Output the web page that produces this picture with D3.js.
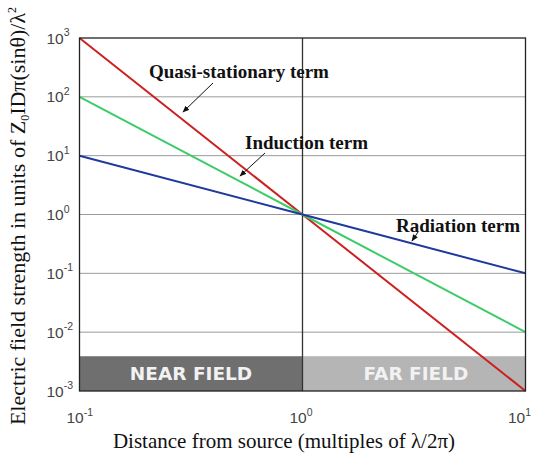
<!DOCTYPE html>
<html><head><meta charset="utf-8">
<script src="https://cdn.jsdelivr.net/npm/d3@7"></script>
<style>body{margin:0;background:#fff}svg{display:block}</style>
</head><body>
<script>
// ---- data ----
const distance = [0.1, 1, 10];
const quasiStationary = [1000, 1, 0.001];
const induction = [100, 1, 0.01];
const radiation = [10, 1, 0.1];
const yTickExponents = [3, 2, 1, 0, -1, -2, -3];
const xTickExponents = [-1, 0, 1];
const seriesNames = ["Quasi-stationary term", "Induction term", "Radiation term"];
const bandLabels = ["NEAR FIELD", "FAR FIELD"];
const bandTop = 0.0039;

const W = 534, H = 454;
const m = {left: 79.5, right: 8.5, top: 38, bottom: 63};
const svg = d3.select("body").append("svg").attr("width", W).attr("height", H);
const x = d3.scaleLog().domain([0.1, 10]).range([m.left, W - m.right]);
const y = d3.scaleLog().domain([0.001, 1000]).range([H - m.bottom, m.top]);

// bands
const bands = [{x0: 0.1, x1: 1, fill: "#6f6f6f", label: bandLabels[0]},
               {x0: 1, x1: 10, fill: "#b5b5b5", label: bandLabels[1]}];
svg.selectAll("rect.band").data(bands).join("rect").attr("class", "band")
  .attr("x", d => x(d.x0)).attr("width", d => x(d.x1) - x(d.x0))
  .attr("y", y(bandTop)).attr("height", y(0.001) - y(bandTop))
  .attr("fill", d => d.fill);
svg.selectAll("text.band").data(bands).join("text").attr("class", "band")
  .attr("x", d => (x(d.x0) + x(d.x1)) / 2 + (d.x0 === 1 ? 2 : 0))
  .attr("y", (y(bandTop) + y(0.001)) / 2 + 6.5)
  .attr("text-anchor", "middle").attr("fill", "#f2f2f2")
  .attr("font-family", "DejaVu Sans").attr("font-weight", "bold").attr("font-size", 18.5)
  .text(d => d.label);

// gridlines
svg.selectAll("line.gy").data(yTickExponents.filter(e => e > -3 && e < 3)).join("line")
  .attr("class", "gy").attr("x1", m.left).attr("x2", W - m.right)
  .attr("y1", e => y(Math.pow(10, e))).attr("y2", e => y(Math.pow(10, e)))
  .attr("stroke", "#9a9a9a").attr("stroke-width", 1);
svg.append("line").attr("x1", x(1)).attr("x2", x(1)).attr("y1", m.top).attr("y2", H - m.bottom)
  .attr("stroke", "#333").attr("stroke-width", 1.3);

// series
const series = [
  {name: seriesNames[0], vals: quasiStationary, color: "#cc2020"},
  {name: seriesNames[1], vals: induction, color: "#3dcc6a"},
  {name: seriesNames[2], vals: radiation, color: "#1f3a9c"}
];
const line = d3.line().x(d => x(d[0])).y(d => y(d[1]));
series.forEach(s => {
  svg.append("path").attr("d", line(distance.map((d, i) => [d, s.vals[i]])))
    .attr("fill", "none").attr("stroke", s.color).attr("stroke-width", 2);
});

// frame
svg.append("rect").attr("x", m.left).attr("y", m.top)
  .attr("width", W - m.right - m.left).attr("height", H - m.bottom - m.top)
  .attr("fill", "none").attr("stroke", "#222").attr("stroke-width", 1.3);

// tick labels
const tickFont = "Liberation Sans";
const yt = svg.selectAll("text.yt").data(yTickExponents).join("text").attr("class", "yt")
  .attr("x", m.left - 33).attr("y", e => y(Math.pow(10, e)) + 5.5)
  .attr("font-family", tickFont).attr("font-size", 15.5).attr("fill", "#444");
yt.append("tspan").text("10");
yt.append("tspan").attr("font-size", 10.5).attr("dy", -7.5).text(e => e);

const xt = svg.selectAll("text.xt").data(xTickExponents).join("text").attr("class", "xt")
  .attr("x", e => Math.min(x(Math.pow(10, e)) - 13, W - 26)).attr("y", H - m.bottom + 32)
  .attr("font-family", tickFont).attr("font-size", 15.5).attr("fill", "#444");
xt.append("tspan").text("10");
xt.append("tspan").attr("font-size", 10.5).attr("dy", -7.5).text(e => e);

// axis titles
svg.append("text").attr("x", 284).attr("y", 448).attr("text-anchor", "middle")
  .attr("font-family", "Liberation Serif").attr("font-size", 21).attr("fill", "#111")
  .text("Distance from source (multiples of λ/2π)");
const yl = svg.append("text").attr("transform", "translate(25,216) rotate(-90)")
  .attr("text-anchor", "middle").attr("font-family", "Liberation Serif").attr("font-size", 22).attr("fill", "#111");
yl.append("tspan").text("Electric field strength in units of Z");
yl.append("tspan").attr("font-size", 12).attr("dy", 4).text("0");
yl.append("tspan").attr("dy", -4).text("IDπ(sinθ)/λ");
yl.append("tspan").attr("font-size", 12).attr("dy", -9).text("2");

// annotations
const ann = [
  {text: seriesNames[0], tx: 149, ty: 78, ax1: 213, ay1: 83, ax2: 183, ay2: 112},
  {text: seriesNames[1], tx: 245, ty: 149, ax1: 265, ay1: 153, ax2: 240, ay2: 176},
  {text: seriesNames[2], tx: 396, ty: 232, ax1: 418, ay1: 232, ax2: 412, ay2: 241}
];
svg.append("defs").append("marker").attr("id", "ah").attr("viewBox", "0 0 10 10")
  .attr("refX", 9).attr("refY", 5).attr("markerWidth", 7).attr("markerHeight", 7)
  .attr("orient", "auto").append("path").attr("d", "M0,1L10,5L0,9Z").attr("fill", "#111");
ann.forEach(a => {
  svg.append("text").attr("x", a.tx).attr("y", a.ty).attr("font-family", "Liberation Serif")
    .attr("font-weight", "bold").attr("font-size", 19).attr("fill", "#111").text(a.text);
  svg.append("line").attr("x1", a.ax1).attr("y1", a.ay1).attr("x2", a.ax2).attr("y2", a.ay2)
    .attr("stroke", "#111").attr("stroke-width", 1).attr("marker-end", "url(#ah)");
});
</script>
</body></html>
